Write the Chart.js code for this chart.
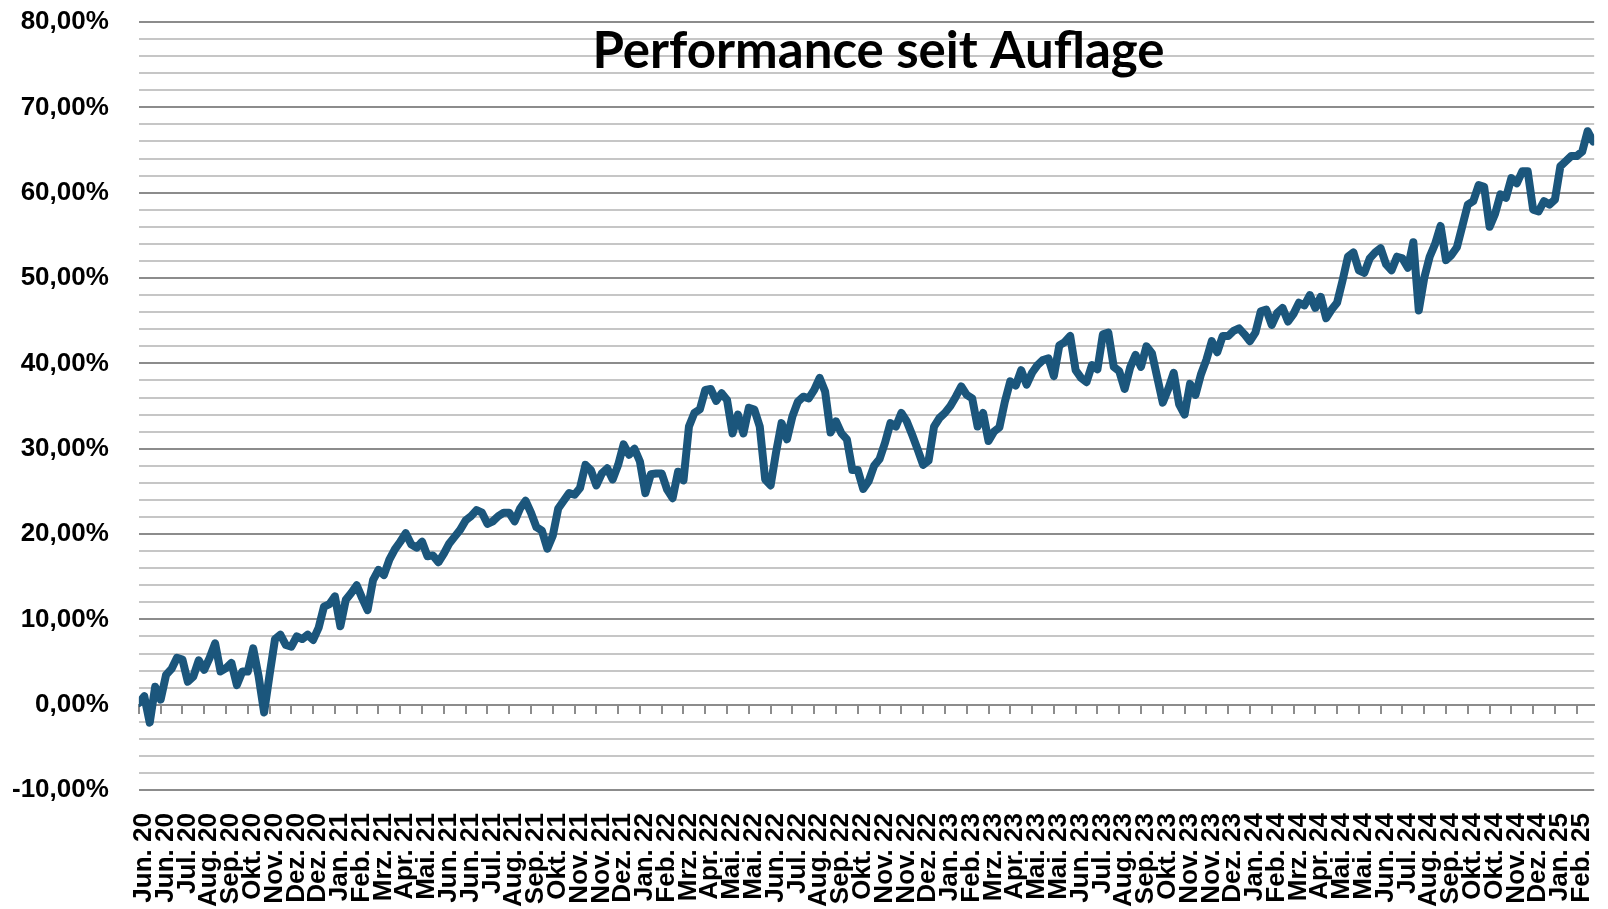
<!DOCTYPE html>
<html lang="de">
<head>
<meta charset="utf-8">
<title>Performance seit Auflage</title>
<script src="https://cdn.jsdelivr.net/npm/chart.js@4.4.1/dist/chart.umd.min.js"></script>
<style>
    html, body { margin: 0; padding: 0; background: #ffffff; }
    #wrap { width: 1608px; height: 909px; position: relative; }
</style>
</head>
<body>
<div id="wrap"><canvas id="myChart"></canvas></div>
<script>
// Chart title
const chartTitle = "Performance seit Auflage";

// Month labels under the x axis (one every 18 trading days)
const monthLabels = [
    "Jun. 20", "Jun. 20", "Jul. 20", "Aug. 20", "Sep. 20", "Okt. 20", "Nov. 20", "Dez. 20", "Dez. 20",
    "Jan. 21", "Feb. 21", "Mrz. 21", "Apr. 21", "Mai. 21", "Jun. 21", "Jun. 21", "Jul. 21", "Aug. 21",
    "Sep. 21", "Okt. 21", "Nov. 21", "Nov. 21", "Dez. 21",
    "Jan. 22", "Feb. 22", "Mrz. 22", "Apr. 22", "Mai. 22", "Mai. 22", "Jun. 22", "Jul. 22", "Aug. 22",
    "Sep. 22", "Okt. 22", "Nov. 22", "Nov. 22", "Dez. 22",
    "Jan. 23", "Feb. 23", "Mrz. 23", "Apr. 23", "Mai. 23", "Mai. 23", "Jun. 23", "Jul. 23", "Aug. 23",
    "Sep. 23", "Okt. 23", "Nov. 23", "Nov. 23", "Dez. 23",
    "Jan. 24", "Feb. 24", "Mrz. 24", "Apr. 24", "Mai. 24", "Mai. 24", "Jun. 24", "Jul. 24", "Aug. 24",
    "Sep. 24", "Okt. 24", "Okt. 24", "Nov. 24", "Dez. 24",
    "Jan. 25", "Feb. 25"
];

// Performance in %, four readings per label interval
const perf2020 = [
    0.2, 1.0, -2.1, 2.1, 0.6, 3.5, 4.2, 5.5, 5.3, 2.7, 3.3, 5.2, 4.1, 5.5, 7.2, 3.9, 4.3, 4.9,
    2.3, 3.9, 3.9, 6.6, 3.3, -0.9, 3.5, 7.7, 8.2, 7.0, 6.8, 8.0, 7.7, 8.2, 7.6, 9.0, 11.5, 11.8
];
const perf2021 = [
    12.7, 9.2, 12.3, 13.1, 14.0, 12.5, 11.1, 14.6, 15.8, 15.2, 17.0, 18.2, 19.1, 20.1, 18.8, 18.4,
    19.1, 17.4, 17.5, 16.7, 17.7, 18.9, 19.7, 20.5, 21.6, 22.1, 22.8, 22.5, 21.2, 21.5, 22.1, 22.5,
    22.5, 21.5, 23.0, 23.9, 22.5, 20.8, 20.4, 18.3, 19.8, 23.0, 23.9, 24.8, 24.6, 25.4, 28.1, 27.5,
    25.7, 27.1, 27.7, 26.4, 28.1, 30.5, 29.3, 30.0
];
const perf2022 = [
    28.5, 24.8, 27.0, 27.1, 27.1, 25.2, 24.2, 27.3, 26.3, 32.6, 34.2, 34.6, 36.9, 37.0, 35.6, 36.5,
    35.7, 31.8, 34.0, 31.8, 34.8, 34.6, 32.6, 26.4, 25.7, 29.6, 33.0, 31.1, 33.8, 35.5, 36.1, 35.9,
    36.9, 38.3, 36.7, 31.9, 33.2, 31.8, 31.1, 27.5, 27.5, 25.3, 26.2, 28.0, 28.8, 30.7, 33.0, 32.6,
    34.2, 33.2, 31.6, 29.9, 28.1, 28.6, 32.6, 33.6
];
const perf2023 = [
    34.2, 35.0, 36.1, 37.3, 36.3, 35.9, 32.6, 34.2, 30.9, 32.0, 32.5, 35.5, 37.9, 37.4, 39.2, 37.5,
    38.9, 39.8, 40.4, 40.6, 38.5, 42.1, 42.5, 43.2, 39.2, 38.3, 37.8, 39.8, 39.3, 43.4, 43.6, 39.6,
    39.1, 37.0, 39.5, 41.0, 39.6, 42.0, 41.2, 38.3, 35.4, 37.0, 38.9, 35.2, 34.0, 37.6, 36.3, 38.7,
    40.4, 42.6, 41.3, 43.2, 43.2, 43.8, 44.1, 43.4
];
const perf2024 = [
    42.6, 43.6, 46.1, 46.3, 44.5, 45.9, 46.5, 44.9, 45.8, 47.1, 46.8, 48.0, 46.5, 47.8, 45.3, 46.3,
    47.1, 49.7, 52.5, 53.0, 50.9, 50.6, 52.3, 53.0, 53.5, 51.6, 50.9, 52.5, 52.3, 51.2, 54.2, 46.2,
    50.0, 52.5, 54.0, 56.1, 52.1, 52.7, 53.6, 56.1, 58.6, 59.0, 60.9, 60.7, 56.0, 57.5, 59.8, 59.4,
    61.7, 61.1, 62.5, 62.5, 58.0, 57.8, 59.0, 58.6
];
const perf2025 = [59.2, 63.1, 63.7, 64.3, 64.3, 64.8, 67.2, 66.0];

const perfValues = perf2020.concat(perf2021, perf2022, perf2023, perf2024, perf2025);
const readingsPerLabel = 4;
const xEnd = 66.8; // last reading sits a bit past "Feb. 25"

// Colors
const lineColor = '#1b567c';
const majorGrid = '#8c8c8c';
const minorGrid = '#c6c6c6';

const tickFont = { family: "'Liberation Sans', Arial, sans-serif", size: 26, weight: 'bold' };

function formatPercent(v) {
    return v.toFixed(2).replace('.', ',') + '%';
}

function labelTicks(scale) {
    scale.ticks = monthLabels.map((_, i) => ({ value: i }));
}

// Title sits inside the plot area, over the grid lines
const innerTitle = {
    id: 'innerTitle',
    afterDraw(chart) {
        const { ctx, chartArea } = chart;
        ctx.save();
        ctx.font = "bold 51px Lato, 'Open Sans', sans-serif";
        ctx.fillStyle = '#000000';
        ctx.textAlign = 'center';
        ctx.textBaseline = 'alphabetic';
        ctx.fillText(chartTitle, (chartArea.left + chartArea.right) / 2 + 12, chartArea.top + 46);
        ctx.restore();
    }
};

const ctx = document.getElementById('myChart').getContext('2d');

// Note: gaps between labels and axes are made with invisible tick marks,
// because ticks.padding is also added around the plot by Chart.js
const myChart = new Chart(ctx, {
    type: 'line',
    data: {
        labels: perfValues.map((_, j) => j / readingsPerLabel),
        datasets: [{
            label: 'Performance',
            data: perfValues,
            borderColor: lineColor,
            borderWidth: 8,
            borderJoinStyle: 'round',
            borderCapStyle: 'round',
            pointRadius: 0,
            tension: 0,
            fill: false,
            xAxisID: 'x'
        }]
    },
    options: {
        responsive: true,
        maintainAspectRatio: false,
        animation: false,
        layout: { padding: { left: 12, right: 6, top: 22, bottom: 2 } },
        plugins: {
            legend: { display: false },
            title: { display: false },
            tooltip: { enabled: false }
        },
        scales: {
            x: {
                type: 'linear',
                position: 'bottom',
                min: 0,
                max: xEnd,
                afterBuildTicks: labelTicks,
                grid: {
                    display: true,
                    drawOnChartArea: false,
                    drawTicks: true,
                    tickLength: 23,
                    tickColor: 'rgba(0,0,0,0)'
                },
                border: { display: false },
                ticks: {
                    autoSkip: false,
                    maxRotation: 90,
                    minRotation: 90,
                    padding: 0,
                    labelOffset: 5,
                    color: '#000000',
                    font: tickFont,
                    callback: (v) => monthLabels[v]
                }
            },
            xMarks: {
                type: 'linear',
                position: { y: 0 },
                min: 0,
                max: xEnd,
                afterBuildTicks: labelTicks,
                grid: {
                    drawOnChartArea: false,
                    drawTicks: true,
                    tickLength: 8,
                    color: majorGrid,
                    lineWidth: 2
                },
                border: { display: true, color: majorGrid, width: 2 },
                ticks: { display: false }
            },
            y: {
                min: -10,
                max: 80,
                grid: {
                    drawTicks: true,
                    tickLength: 30,
                    tickColor: 'rgba(0,0,0,0)',
                    lineWidth: 2,
                    color: (c) => (c.tick && Math.round(c.tick.value) % 10 === 0) ? majorGrid : minorGrid
                },
                border: { display: false },
                ticks: {
                    stepSize: 2,
                    autoSkip: false,
                    padding: 0,
                    color: '#000000',
                    font: tickFont,
                    callback: (v) => Math.round(v) % 10 === 0 ? formatPercent(v) : ''
                }
            }
        }
    },
    plugins: [innerTitle]
});
</script>
</body>
</html>
